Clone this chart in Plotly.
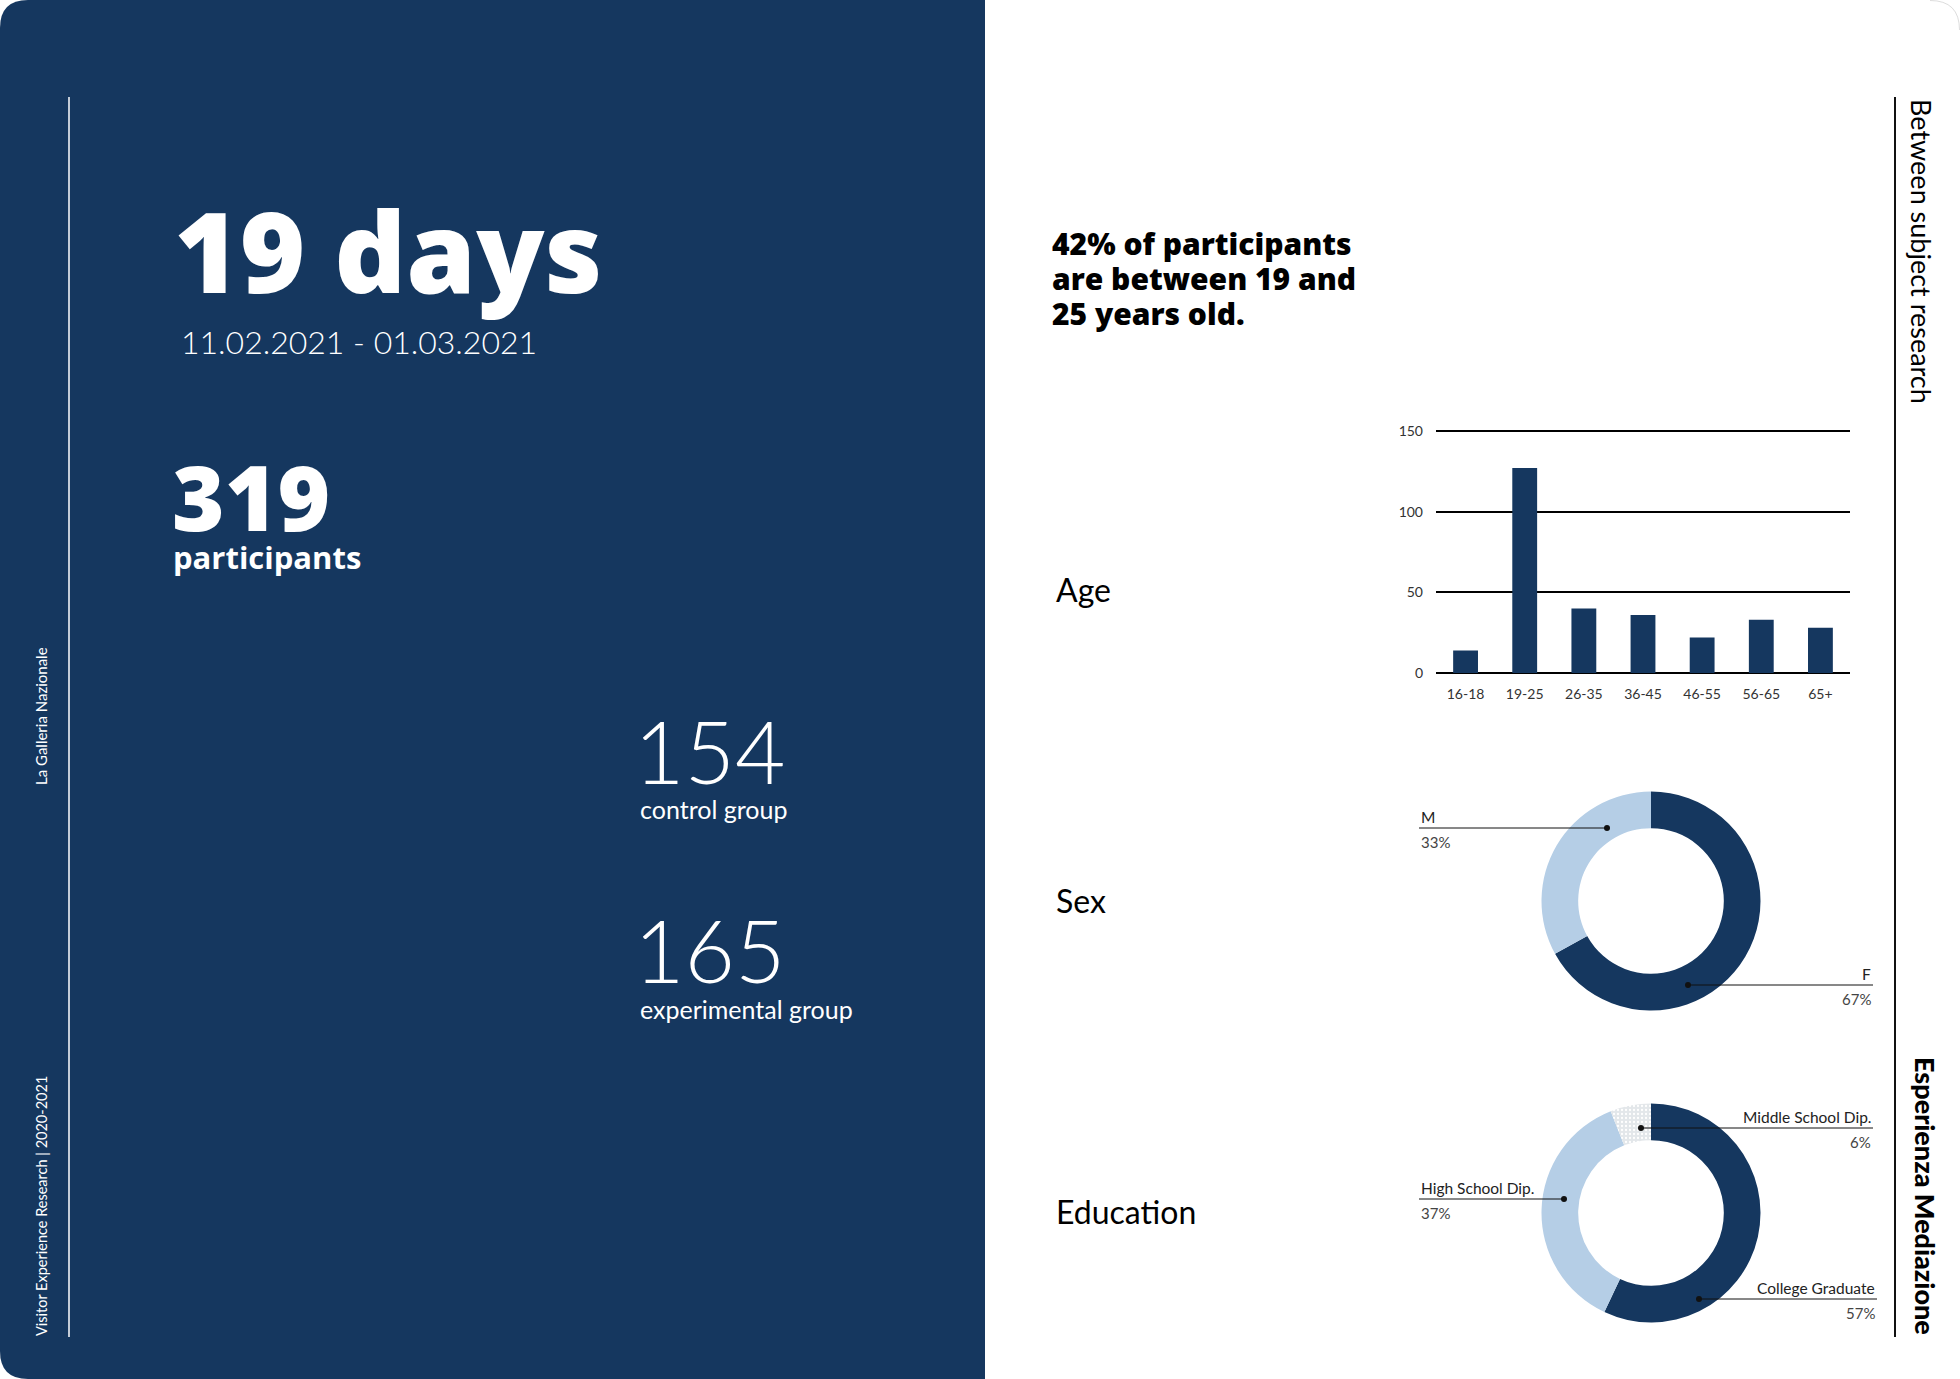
import plotly.graph_objects as go

# page size (px)
W, H = 1960, 1379

# data
age_groups = ["16-18", "19-25", "26-35", "36-45", "46-55", "56-65", "65+"]
age_counts = [14, 127, 40, 36, 22, 33, 28]
age_ticks = [0, 50, 100, 150]

sex_labels = ["F", "M"]
sex_pct = [67, 33]

edu_labels = ["College Graduate", "High School Dip.", "Middle School Dip."]
edu_pct = [57, 37, 6]

n_days = 19
date_range = "11.02.2021 - 01.03.2021"
n_participants = 319
n_control = 154
n_experimental = 165
headline = ["42% of participants", "are between 19 and", "25 years old."]

NAVY = "#15375f"
LIGHT_BLUE = "#b5cee6"
GREY = "#e3e7ea"


def X(v):
    return v / W


def Y(v):
    return 1 - v / H


fig = go.Figure()

# age bars
fig.add_trace(go.Bar(
    x=age_groups, y=age_counts, width=0.42,
    marker=dict(color=NAVY, line=dict(width=0)),
    hoverinfo="skip", showlegend=False,
))

# donuts
def donut(values, labels, colors, cx, cy, r, pattern=None):
    marker = dict(colors=colors, line=dict(color="white", width=0))
    if pattern:
        marker["pattern"] = pattern
    return go.Pie(
        values=values, labels=labels, hole=0.665, sort=False,
        direction="clockwise", rotation=0, textinfo="none",
        hoverinfo="skip", showlegend=False, marker=marker,
        domain=dict(x=[X(cx - r), X(cx + r)], y=[Y(cy + r), Y(cy - r)]),
    )


fig.add_trace(donut(sex_pct, sex_labels, [NAVY, LIGHT_BLUE], 1651, 901, 109.5))
fig.add_trace(donut(
    edu_pct, edu_labels, [NAVY, LIGHT_BLUE, GREY], 1651, 1213, 109.5,
    pattern=dict(shape=["", "", "."], fgcolor=[NAVY, LIGHT_BLUE, "#ffffff"],
                 bgcolor=[NAVY, LIGHT_BLUE, GREY], size=4, solidity=0.25),
))

shapes = []
ann = []


def text(s, x, y, size, color="white", family="Lato", weight=400,
         xanchor="left", angle=0):
    ann.append(dict(
        text=s, x=X(x), y=Y(y), xref="paper", yref="paper",
        xanchor=xanchor, yanchor="middle", showarrow=False, textangle=angle,
        font=dict(family=family, size=size, color=color, weight=weight),
    ))


# left navy panel with rounded left corners
r = 28
shapes.append(dict(
    type="path", xref="paper", yref="paper", layer="below",
    path=(f"M {X(985)},{Y(0)} L {X(985)},{Y(H)} L {X(r)},{Y(H)} "
          f"Q {X(0)},{Y(H)} {X(0)},{Y(H - r)} L {X(0)},{Y(r)} "
          f"Q {X(0)},{Y(0)} {X(r)},{Y(0)} Z"),
    fillcolor=NAVY, line=dict(width=0),
))
# faint outline of the right rounded corner
shapes.append(dict(
    type="path", xref="paper", yref="paper", layer="below",
    path=(f"M {X(1930)},{Y(0.5)} Q {X(W - 0.5)},{Y(0.5)} {X(W - 0.5)},{Y(30)}"),
    line=dict(color="#dddddd", width=1),
))

# vertical rules
shapes.append(dict(type="line", xref="paper", yref="paper",
                   x0=X(69), x1=X(69), y0=Y(97), y1=Y(1337),
                   line=dict(color="white", width=1.5)))
shapes.append(dict(type="line", xref="paper", yref="paper",
                   x0=X(1895), x1=X(1895), y0=Y(97), y1=Y(1337),
                   line=dict(color="#111111", width=2)))

# left panel text
text(f"{n_days} days", 172, 249, 112, family="Open Sans", weight=800)
text(date_range, 179, 341, 32, weight=300)
text(str(n_participants), 170, 496, 90, family="Open Sans", weight=800)
text("participants", 171, 557, 31, family="Open Sans", weight=700)
text(str(n_control), 632, 750, 87, weight=300)
text("control group", 638, 809, 25)
text(str(n_experimental), 632, 949, 87, weight=300)
text("experimental group", 638, 1009, 25)
text("La Galleria Nazionale", 41, 716, 15, angle=-90, xanchor="center")
text("Visitor Experience Research | 2020-2021", 41, 1206, 14.5, angle=-90,
     xanchor="center")

# right side text
for i, line in enumerate(headline):
    text(line, 1050, 243 + 35 * i, 30, color="black", family="Open Sans", weight=800)
text("Age", 1054, 589, 32, color="black")
text("Sex", 1054, 900, 32, color="black")
text("Education", 1054, 1211, 32, color="black")
text("Between subject research", 1922, 251, 27, color="black", angle=90,
     xanchor="center")
text("Esperienza Mediazione", 1926, 1196, 27, color="black", weight=900,
     angle=90, xanchor="center")

# donut call-outs: (label, pct, text x, anchor, line y, dot x, line end x)
callouts = [
    (sex_labels[1], sex_pct[1], 1419, "left", 828, 1607, 1419),
    (sex_labels[0], sex_pct[0], 1873, "right", 985, 1688, 1873),
    (edu_labels[2], edu_pct[2], 1873, "right", 1128, 1641, 1873),
    (edu_labels[1], edu_pct[1], 1419, "left", 1199, 1564, 1419),
    (edu_labels[0], edu_pct[0], 1877, "right", 1299, 1699, 1877),
]
for lab, pct, tx, anchor, ly, dx, lx in callouts:
    text(lab, tx, ly - 11, 15.5, color="#222222", xanchor=anchor)
    text(f"{pct}%", tx, ly + 14, 15, color="#444444", xanchor=anchor)
    shapes.append(dict(type="line", xref="paper", yref="paper",
                       x0=X(min(dx, lx)), x1=X(max(dx, lx)), y0=Y(ly), y1=Y(ly),
                       line=dict(color="#111111", width=1)))
    shapes.append(dict(type="circle", xref="paper", yref="paper",
                       x0=X(dx - 3), x1=X(dx + 3), y0=Y(ly + 3), y1=Y(ly - 3),
                       fillcolor="#111111", line=dict(width=0)))

# bar axis: 0 at y=673px, 150 at y=431px; pad the range so end gridlines show
px_per_unit = (673 - 431) / 150
pad = 3

fig.update_layout(
    width=W, height=H,
    margin=dict(l=0, r=0, t=0, b=0, pad=0, autoexpand=False),
    paper_bgcolor="white", plot_bgcolor="rgba(0,0,0,0)",
    shapes=shapes, annotations=ann,
    xaxis=dict(
        domain=[X(1436), X(1850)], range=[-0.5, 6.5], automargin=False,
        showgrid=False, showline=False, zeroline=False, ticks="",
        ticklabelstandoff=6,
        tickfont=dict(family="Lato", size=14, color="#333333"),
    ),
    yaxis=dict(
        domain=[Y(673 + pad * px_per_unit), Y(431 - pad * px_per_unit)],
        range=[-pad, 150 + pad], automargin=False,
        tickvals=age_ticks, showgrid=True, gridcolor="#000000", gridwidth=2,
        zeroline=False, showline=False, ticks="", ticklabelstandoff=12,
        tickfont=dict(family="Lato", size=14, color="#333333"),
    ),
)

fig.write_html("out.html", config={"displayModeBar": False},
               post_script="document.body.style.margin='0';")
